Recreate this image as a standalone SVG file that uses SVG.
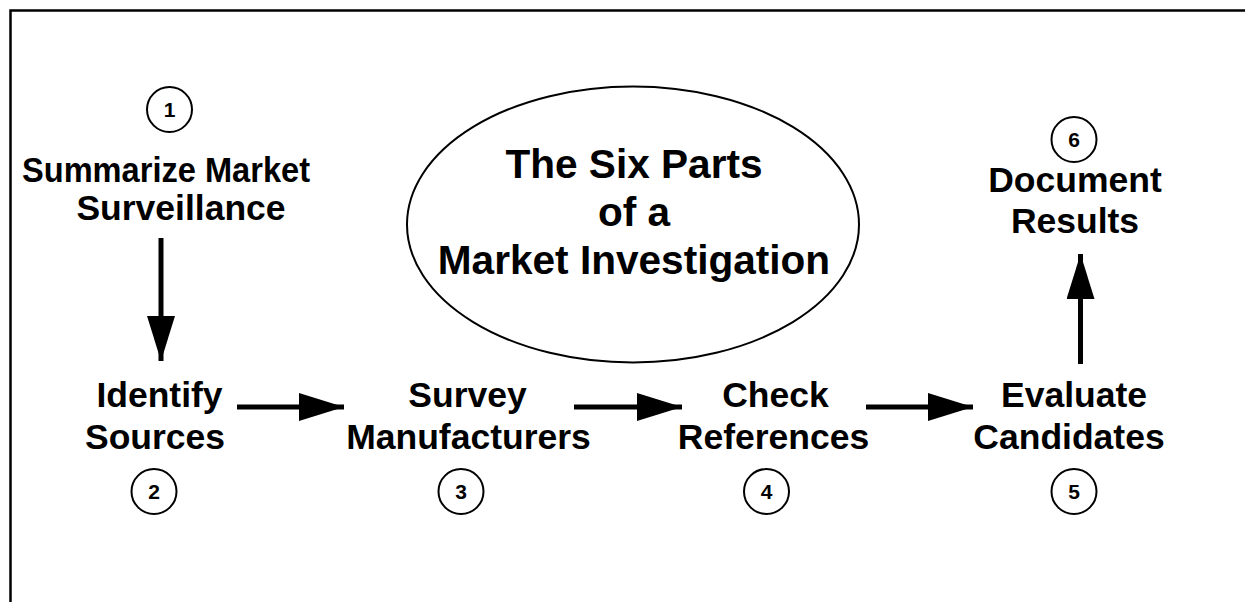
<svg xmlns="http://www.w3.org/2000/svg" width="1245" height="602" viewBox="0 0 1245 602">
<style>
.lbl{font-family:"Liberation Sans",Arial,sans-serif;font-weight:bold;font-size:35.5px;fill:#000;text-anchor:middle}
.title{font-family:"Liberation Sans",Arial,sans-serif;font-weight:bold;font-size:40.6px;fill:#000;text-anchor:middle}
.num{font-family:"Liberation Sans",Arial,sans-serif;font-weight:bold;font-size:21px;fill:#000;text-anchor:middle}
.ring{fill:none;stroke:#000;stroke-width:2}
.conn{stroke:#000;stroke-width:5;fill:none}
</style>
<defs>
<marker id="ah" markerUnits="userSpaceOnUse" markerWidth="46" markerHeight="28" refX="45" refY="14" orient="auto">
<path d="M0,0 L45,14 L0,28 Z" fill="#000"/>
</marker>
</defs>
<rect width="1245" height="602" fill="#fff"/>
<path d="M10.5,602 V10.5 H1245" fill="none" stroke="#000" stroke-width="2.5"/>
<g id="title">
<ellipse cx="633" cy="224.5" rx="226" ry="138" class="ring"/>
<text class="title" x="634" y="178">The Six Parts</text>
<text class="title" x="634" y="226">of a</text>
<text class="title" x="634" y="274">Market Investigation</text>
</g>
<g id="node1">
<circle cx="169.5" cy="109.5" r="22.5" class="ring"/>
<text class="num" x="169.5" y="117">1</text>
<text class="lbl" x="166" y="182" textLength="288" lengthAdjust="spacingAndGlyphs">Summarize Market</text>
<text class="lbl" x="181" y="220">Surveillance</text>
</g>
<g id="node2">
<text class="lbl" x="159.5" y="407">Identify</text>
<text class="lbl" x="155" y="449">Sources</text>
<circle cx="154" cy="491.5" r="22.5" class="ring"/>
<text class="num" x="154" y="499">2</text>
</g>
<g id="node3">
<text class="lbl" x="467.5" y="407">Survey</text>
<text class="lbl" x="468.5" y="449">Manufacturers</text>
<circle cx="461" cy="491.5" r="22.5" class="ring"/>
<text class="num" x="461" y="499">3</text>
</g>
<g id="node4">
<text class="lbl" x="775.5" y="407">Check</text>
<text class="lbl" x="773.5" y="449">References</text>
<circle cx="766.5" cy="491.5" r="22.5" class="ring"/>
<text class="num" x="766.5" y="499">4</text>
</g>
<g id="node5">
<text class="lbl" x="1074" y="407">Evaluate</text>
<text class="lbl" x="1069" y="449">Candidates</text>
<circle cx="1074" cy="491.5" r="22.5" class="ring"/>
<text class="num" x="1074" y="499">5</text>
</g>
<g id="node6">
<circle cx="1074" cy="139.5" r="22.5" class="ring"/>
<text class="num" x="1074" y="147">6</text>
<text class="lbl" x="1075" y="192">Document</text>
<text class="lbl" x="1075" y="233">Results</text>
</g>
<g id="connectors">
<line class="conn" x1="161" y1="238" x2="161" y2="361" marker-end="url(#ah)"/>
<line class="conn" x1="237" y1="407" x2="344" y2="407" marker-end="url(#ah)"/>
<line class="conn" x1="574" y1="407" x2="682" y2="407" marker-end="url(#ah)"/>
<line class="conn" x1="866" y1="407" x2="973" y2="407" marker-end="url(#ah)"/>
<line class="conn" x1="1080.5" y1="364" x2="1080.5" y2="254" marker-end="url(#ah)"/>
</g>
</svg>
